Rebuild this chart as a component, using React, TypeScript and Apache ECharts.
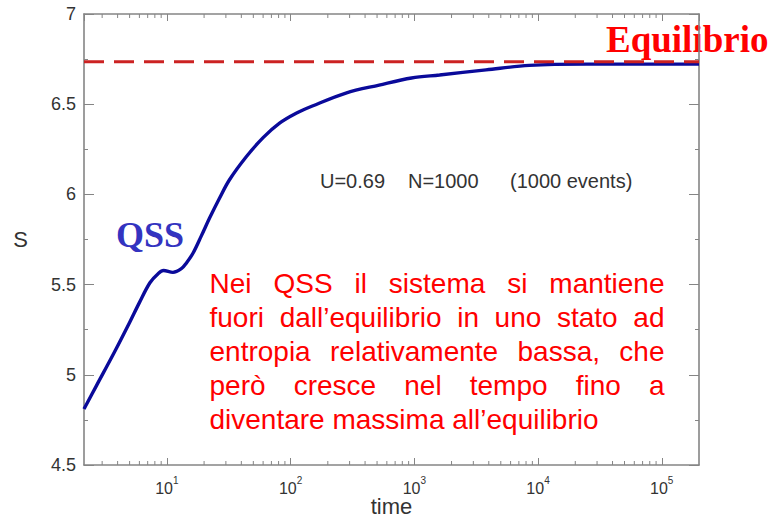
import React, { useEffect, useRef } from "react";
import * as echarts from "echarts";

// ---- data ----
const timeValues = [2.14, 2.7, 3.7, 5, 6, 7.3, 8.5, 9.4, 11.2, 13.1, 14.4, 16.3, 19, 22.2, 26.7, 32, 44, 60, 81, 111, 150, 280, 520, 950, 1600, 3800, 8500, 24500, 200000];
const entropyValues = [4.81, 4.94, 5.115, 5.29, 5.4, 5.51, 5.56, 5.578, 5.568, 5.588, 5.62, 5.675, 5.77, 5.87, 5.98, 6.08, 6.21, 6.315, 6.394, 6.45, 6.49, 6.562, 6.606, 6.645, 6.662, 6.69, 6.715, 6.722, 6.722];
const equilibriumValue = 6.735;
const xRange = [2.14, 200000];
const yRange = [4.5, 7];
const yTickStep = 0.5;
const minorDecades = [1, 10, 100, 1000, 10000];
const minorMultipliers = [2, 3, 4, 5, 6, 7, 8, 9];

const xAxisName = "time";
const yAxisName = "S";
const paramTexts = ["U=0.69", "N=1000", "(1000 events)"];
const qssLabel = "QSS";
const equilibriumLabel = "Equilibrio";
const noteLines = [
  "Nei QSS il sistema si mantiene",
  "fuori dall\u2019equilibrio in uno stato ad",
  "entropia relativamente bassa, che",
  "per\u00f2 cresce nel tempo fino a",
  "diventare massima all\u2019equilibrio",
];

const AXIS_COLOR = "#858585";
const TEXT_COLOR = "#333333";
const SANS = '"Liberation Sans", Arial, Helvetica, sans-serif';
const SERIF = '"Liberation Serif", "Times New Roman", serif';

function measure(text: string, font: string): number {
  const c = document.createElement("canvas").getContext("2d");
  if (!c) return text.length * 10;
  c.font = font;
  return c.measureText(text).width;
}

function buildNote(): any[] {
  const font = `28px ${SANS}`;
  const left = 209.5;
  const right = 664.5;
  const firstCenter = 283.5;
  const step = 34;
  const els: any[] = [];
  noteLines.forEach((line, i) => {
    const y = firstCenter + i * step;
    const words = line.split(" ");
    const justify = i < noteLines.length - 1;
    if (!justify) {
      els.push({ type: "text", x: left, y, silent: true, style: { text: line, font, fill: "#ff0000", align: "left", verticalAlign: "middle" } });
      return;
    }
    const widths = words.map((w) => measure(w, font));
    const total = widths.reduce((a, b) => a + b, 0);
    const gap = (right - left - total) / (words.length - 1);
    let x = left;
    words.forEach((w, k) => {
      els.push({ type: "text", x, y, silent: true, style: { text: w, font, fill: "#ff0000", align: "left", verticalAlign: "middle" } });
      x += widths[k] + gap;
    });
  });
  return els;
}

export default function App() {
  const ref = useRef<HTMLDivElement>(null);

  useEffect(() => {
    if (!ref.current) return;
    const chart = echarts.init(ref.current, null, { renderer: "svg" });

    const minorTicks: number[][] = [];
    minorDecades.forEach((d) =>
      minorMultipliers.forEach((m) => {
        const v = d * m;
        if (v >= xRange[0] && v <= xRange[1]) minorTicks.push([v, yRange[0]]);
      })
    );

    const curve = timeValues.map((t, i) => [t, entropyValues[i]]);
    const eqLine = [
      [xRange[0], equilibriumValue],
      [xRange[1], equilibriumValue],
    ];

    const xCommon = {
      type: "log",
      logBase: 10,
      min: xRange[0],
      max: xRange[1],
      splitLine: { show: false },
      axisLine: { show: true, lineStyle: { color: AXIS_COLOR, width: 1.6 } },
      axisTick: { show: true, inside: true, length: 7, lineStyle: { color: AXIS_COLOR, width: 1 } },
    };
    const yCommon = {
      type: "value",
      min: yRange[0],
      max: yRange[1],
      interval: yTickStep,
      splitLine: { show: false },
      axisLine: { show: true, lineStyle: { color: AXIS_COLOR, width: 1.6 } },
      axisTick: { show: true, inside: true, length: 10, lineStyle: { color: AXIS_COLOR, width: 1 } },
      minorTick: { show: true, splitNumber: 2, length: 4, lineStyle: { color: AXIS_COLOR, width: 1 } },
      minorSplitLine: { show: false },
    };

    chart.setOption({
      animation: false,
      backgroundColor: "#ffffff",
      grid: { left: 84, right: 70, top: 14, bottom: 55, containLabel: false, outerBoundsMode: "none" },
      xAxis: [
        {
          ...xCommon,
          position: "bottom",
          name: xAxisName,
          nameLocation: "middle",
          nameGap: 30,
          nameMoveOverlap: false,
          nameTextStyle: { fontSize: 22, color: TEXT_COLOR, fontFamily: SANS },
          axisLabel: {
            show: true,
            showMinLabel: false,
            showMaxLabel: false,
            margin: 10,
            formatter: (v: number) => `{b|10}{s|${Math.round(Math.log10(v))}}`,
            rich: {
              b: { fontSize: 16, color: TEXT_COLOR, fontFamily: SANS, lineHeight: 26 },
              s: { fontSize: 10, color: TEXT_COLOR, fontFamily: SANS, lineHeight: 10, verticalAlign: "top" },
            },
          },
        },
        { ...xCommon, position: "top", axisLabel: { show: false } },
      ],
      yAxis: [
        {
          ...yCommon,
          position: "left",
          name: yAxisName,
          nameLocation: "middle",
          nameRotate: 0,
          nameGap: 56,
          nameMoveOverlap: false,
          nameTextStyle: { fontSize: 22, color: TEXT_COLOR, fontFamily: SANS },
          axisLabel: { show: true, fontSize: 18, color: TEXT_COLOR, fontFamily: SANS, margin: 8 },
        },
        { ...yCommon, position: "right", axisLabel: { show: false } },
      ],
      series: [
        {
          type: "custom",
          xAxisIndex: 0,
          yAxisIndex: 0,
          silent: true,
          data: minorTicks,
          encode: { x: 0, y: 1 },
          renderItem: (params: any, api: any) => {
            const x = api.coord([api.value(0), api.value(1)])[0];
            const cs = params.coordSys;
            const top = cs.y;
            const bottom = cs.y + cs.height;
            const st = { stroke: AXIS_COLOR, lineWidth: 1 };
            return {
              type: "group",
              children: [
                { type: "line", shape: { x1: x, y1: bottom, x2: x, y2: bottom - 4 }, style: st },
                { type: "line", shape: { x1: x, y1: top, x2: x, y2: top + 4 }, style: st },
              ],
            };
          },
          z: 1,
        },
        {
          type: "line",
          xAxisIndex: 0,
          yAxisIndex: 0,
          data: curve,
          smooth: 0.35,
          showSymbol: false,
          symbol: "none",
          lineStyle: { color: "#0a0a9a", width: 3.4 },
          z: 3,
        },
        {
          type: "line",
          xAxisIndex: 0,
          yAxisIndex: 0,
          data: eqLine,
          showSymbol: false,
          symbol: "none",
          lineStyle: { color: "#cc2222", width: 3, type: [20, 10] },
          z: 4,
        },
      ],
      graphic: [
        { type: "text", x: 320, y: 181, silent: true, style: { text: paramTexts[0], font: `20px ${SANS}`, fill: TEXT_COLOR, align: "left", verticalAlign: "middle" } },
        { type: "text", x: 408, y: 181, silent: true, style: { text: paramTexts[1], font: `20px ${SANS}`, fill: TEXT_COLOR, align: "left", verticalAlign: "middle" } },
        { type: "text", x: 510, y: 181, silent: true, style: { text: paramTexts[2], font: `20px ${SANS}`, fill: TEXT_COLOR, align: "left", verticalAlign: "middle" } },
        { type: "text", x: 116, y: 234.5, silent: true, style: { text: qssLabel, font: `bold 36px ${SERIF}`, fill: "#3333c0", align: "left", verticalAlign: "middle" } },
        { type: "text", x: 606, y: 39.5, silent: true, style: { text: equilibriumLabel, font: `bold 37px ${SERIF}`, fill: "#ff0000", align: "left", verticalAlign: "middle" } },
        ...buildNote(),
      ],
    });

    return () => chart.dispose();
  }, []);

  return <div ref={ref} style={{ position: "fixed", left: 0, top: 0, width: 769, height: 520 }} />;
}
